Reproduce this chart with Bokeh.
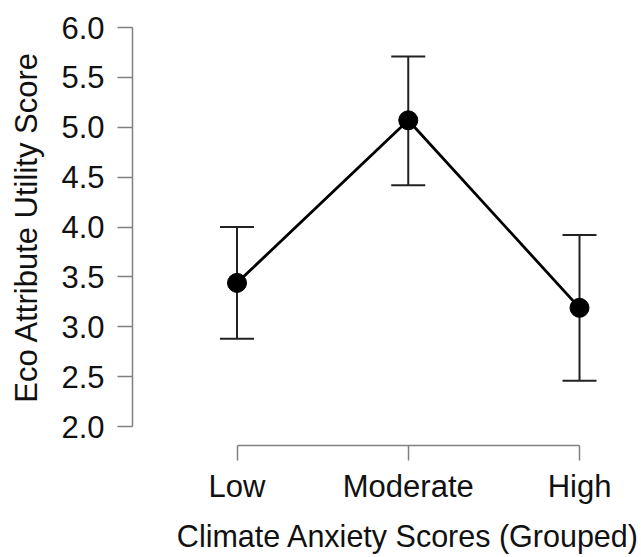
import math
from bokeh.plotting import figure
from bokeh.models import (Range1d, FixedTicker, Whisker, ColumnDataSource, Label,
                          TeeHead, NumeralTickFormatter)
from bokeh.embed import file_html
from bokeh.resources import INLINE

# ---- data ----
groups = ["Low", "Moderate", "High"]
group_pos = [1, 2, 3]
means = [3.44, 5.07, 3.19]
lower = [2.88, 4.42, 2.46]
upper = [4.00, 5.71, 3.92]
y_ticks = [2.0, 2.5, 3.0, 3.5, 4.0, 4.5, 5.0, 5.5, 6.0]
x_title = "Climate Anxiety Scores (Grouped)"
y_title = "Eco Attribute Utility Score"

FONT = "Liberation Sans"
FSIZE = "31px"
AXIS_COL = "#808080"
TEXT_COL = "#111111"

# frame covers the whole canvas; axes are drawn at fixed data locations
p = figure(width=641, height=557, output_backend="svg", toolbar_location=None,
           x_range=Range1d(-0.381, 3.362), y_range=Range1d(0.687, 6.271),
           min_border_left=0, min_border_bottom=0, min_border_top=0,
           min_border_right=0)
p.outline_line_color = None
p.xgrid.visible = False
p.ygrid.visible = False
p.background_fill_color = "white"
p.border_fill_color = "white"

for ax in (p.xaxis[0], p.yaxis[0]):
    ax.axis_line_color = AXIS_COL
    ax.axis_line_width = 1.5
    ax.major_tick_line_color = AXIS_COL
    ax.major_tick_line_width = 1.5
    ax.major_tick_out = 15
    ax.major_tick_in = 0
    ax.minor_tick_out = 0
    ax.minor_tick_in = 0
    ax.major_label_text_font = FONT
    ax.major_label_text_font_size = FSIZE
    ax.major_label_text_color = TEXT_COL

yax = p.yaxis[0]
yax.ticker = FixedTicker(ticks=y_ticks)
yax.bounds = (y_ticks[0], y_ticks[-1])
yax.formatter = NumeralTickFormatter(format="0.0")
yax.major_label_standoff = 13
yax.fixed_location = 0.39

xax = p.xaxis[0]
xax.ticker = FixedTicker(ticks=group_pos)
xax.bounds = (group_pos[0], group_pos[-1])
xax.major_label_overrides = {pos: name for pos, name in zip(group_pos, groups)}
xax.major_label_standoff = 9
xax.fixed_location = 1.81

source = ColumnDataSource(dict(x=group_pos, mean=means, lower=lower, upper=upper))

whisk = Whisker(source=source, base="x", lower="lower", upper="upper",
                dimension="height", line_color="#222222", line_width=2,
                upper_head=TeeHead(size=34, line_color="#222222", line_width=2),
                lower_head=TeeHead(size=34, line_color="#222222", line_width=2))
p.add_layout(whisk)

p.line("x", "mean", source=source, line_color="black", line_width=2.8)
p.scatter("x", "mean", source=source, size=19, fill_color="black", line_color="black")

# axis titles
p.add_layout(Label(x=group_pos[1], y=22, x_units="data", y_units="screen",
                   text=x_title, text_align="center", text_baseline="alphabetic",
                   text_font=FONT, text_font_size="30.5px", text_color=TEXT_COL))
p.add_layout(Label(x=25.5, y=(y_ticks[0] + y_ticks[-1]) / 2, x_units="screen", y_units="data",
                   angle=math.pi / 2, text=y_title, text_align="center",
                   text_baseline="alphabetic", text_font=FONT, text_font_size=FSIZE,
                   text_color=TEXT_COL))

open("out.html", "w").write(file_html(p, INLINE))
